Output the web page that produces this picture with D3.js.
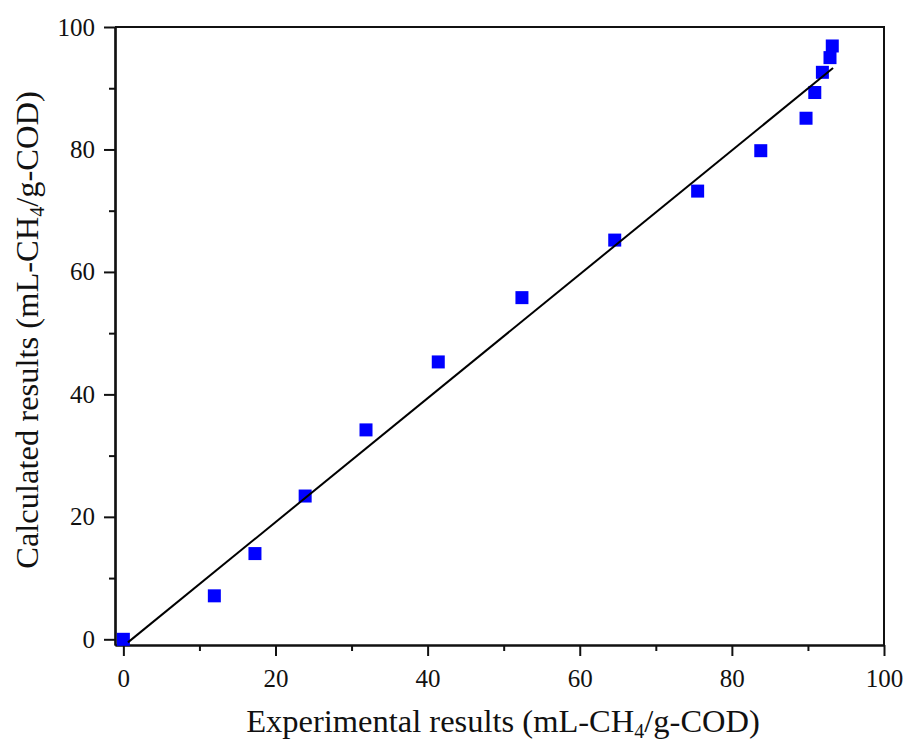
<!DOCTYPE html>
<html lang="en">
<head>
    <meta charset="UTF-8">
    <title>Calculated vs experimental methane yield</title>
    <script src="https://d3js.org/d3.v7.min.js"></script>
    <style>
        body { margin: 0; background: #fff; }
        svg text { font-family: "Liberation Serif", "Times New Roman", serif; fill: #111; }
    </style>
</head>
<body>
    <svg width="906" height="742"></svg>
    <script>
        // values
        const experimental = [0, 11.96, 17.3, 23.9, 31.9, 41.4, 52.4, 64.6, 75.5, 83.8, 89.75, 90.9, 91.9, 92.9, 93.2];
        const calculated = [0, 7.1, 14.0, 23.4, 34.2, 45.3, 55.8, 65.2, 73.2, 79.8, 85.1, 89.3, 92.6, 95.0, 96.9];
        // fitted line end points
        const fitX = [0.6, 93.3];
        const fitY = [-0.5, 93.3];
        const majorTicks = [0, 20, 40, 60, 80, 100];
        const minorTicks = [10, 30, 50, 70, 90];

        const svg = d3.select("svg");
        const plotLeft = 115, plotRight = 884, plotTop = 27, plotBottom = 645;

        let x = d3.scaleLinear().domain([-1.1, 100]).range([plotLeft, plotRight]);
        let y = d3.scaleLinear().domain([-0.93, 100]).range([plotBottom, plotTop]);

        // frame (top and right)
        svg.append("path")
            .attr("d", `M${plotLeft},${plotTop}H${plotRight}V${plotBottom}`)
            .attr("fill", "none")
            .attr("stroke", "#111")
            .attr("stroke-width", 2);

        function styleAxis(g) {
            g.selectAll(".domain").attr("stroke", "#111").attr("stroke-width", 2.2);
            g.selectAll(".tick line").attr("stroke", "#111").attr("stroke-width", 2);
            g.selectAll("text").attr("font-size", "25px");
        }

        // x axis
        svg.append("g")
            .attr("transform", `translate(0,${plotBottom})`)
            .call(d3.axisBottom(x).tickValues(minorTicks).tickSize(6).tickFormat("").tickSizeOuter(0))
            .call(styleAxis);
        svg.append("g")
            .attr("transform", `translate(0,${plotBottom})`)
            .call(d3.axisBottom(x).tickValues(majorTicks).tickSize(11).tickPadding(13).tickSizeOuter(0))
            .call(styleAxis);

        // y axis
        svg.append("g")
            .attr("transform", `translate(${plotLeft},0)`)
            .call(d3.axisLeft(y).tickValues(minorTicks).tickSize(6).tickFormat("").tickSizeOuter(0))
            .call(styleAxis);
        svg.append("g")
            .attr("transform", `translate(${plotLeft},0)`)
            .call(d3.axisLeft(y).tickValues(majorTicks).tickSize(11).tickPadding(9).tickSizeOuter(0))
            .call(styleAxis);

        // points
        const data = experimental.map((d, i) => ({ x: d, y: calculated[i] }));
        const s = 13;
        svg.append("g")
            .selectAll("rect")
            .data(data)
            .enter()
            .append("rect")
            .attr("x", d => x(d.x) - s / 2)
            .attr("y", d => y(d.y) - s / 2)
            .attr("width", s)
            .attr("height", s)
            .attr("fill", "#0000ff");

        // fit line on top of the markers
        svg.append("line")
            .attr("x1", x(fitX[0])).attr("y1", y(fitY[0]))
            .attr("x2", x(fitX[1])).attr("y2", y(fitY[1]))
            .attr("stroke", "#000")
            .attr("stroke-width", 2);

        // axis titles
        const xt = svg.append("text")
            .attr("x", 503)
            .attr("y", 732)
            .attr("text-anchor", "middle")
            .attr("font-size", "32.5px");
        xt.append("tspan").text("Experimental results (mL-CH");
        xt.append("tspan").attr("font-size", "20px").attr("dy", 6).text("4");
        xt.append("tspan").attr("dy", -6).text("/g-COD)");

        const yt = svg.append("text")
            .attr("transform", "translate(38,330) rotate(-90)")
            .attr("text-anchor", "middle")
            .attr("font-size", "32.5px");
        yt.append("tspan").text("Calculated results (mL-CH");
        yt.append("tspan").attr("font-size", "20px").attr("dy", 6).text("4");
        yt.append("tspan").attr("dy", -6).text("/g-COD)");
    </script>
</body>
</html>
